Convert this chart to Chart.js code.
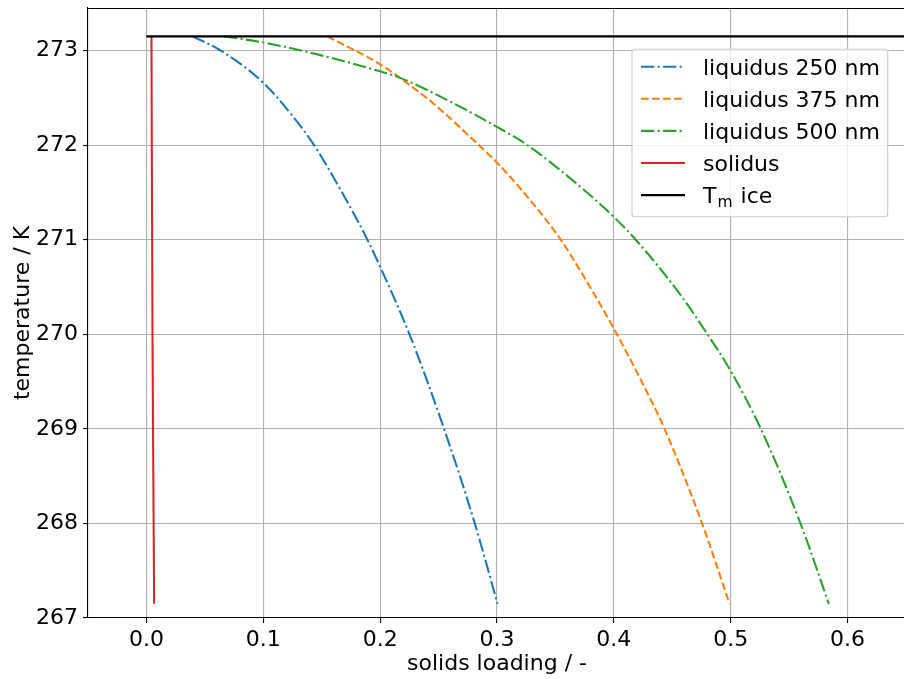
<!DOCTYPE html>
<html>
<head>
<meta charset="utf-8">
<script src="https://cdn.jsdelivr.net/npm/chart.js@4.4.1/dist/chart.umd.min.js"></script>
<style>
  html, body { margin: 0; padding: 0; background: #fff; overflow: hidden; }
  canvas { display: block; }
</style>
</head>
<body>
<canvas id="phase-chart" width="920" height="679"></canvas>
<script>
// liquidus curves for three particle sizes, solidus and melting point of ice
const loading250 = [0.0393, 0.0622, 0.1, 0.1249, 0.1435, 0.1692, 0.1891, 0.2049, 0.2251, 0.2547, 0.281, 0.3005]
const temp250 = [273.15, 273.01, 272.66, 272.31, 272.0, 271.46, 271.0, 270.58, 270.0, 269.0, 268.0, 267.15]

const loading375 = [0.1548, 0.2, 0.2166, 0.2447, 0.2862, 0.3004, 0.3303, 0.3546, 0.3645, 0.4, 0.4315, 0.4434, 0.4755, 0.499]
const temp375 = [273.15, 272.855, 272.714, 272.449, 271.98, 271.81, 271.39, 271.0, 270.81, 270.06, 269.31, 269.0, 268.0, 267.15]

const loading500 = [0.0665, 0.1, 0.1363, 0.2, 0.2166, 0.259, 0.3004, 0.326, 0.3703, 0.4, 0.4187, 0.4556, 0.4801, 0.5001, 0.5258, 0.5597, 0.584]
const temp500 = [273.15, 273.085, 272.99, 272.78, 272.714, 272.466, 272.19, 272.0, 271.57, 271.24, 271.0, 270.44, 270.0, 269.61, 269.0, 268.0, 267.15]

const loadingSolidus = [0.0043, 0.0046, 0.0052, 0.0059, 0.0066]
const tempSolidus = [273.15, 272.0, 270.0, 268.5, 267.15]

const loadingIce = [0.0, 0.65]
const tempIce = [273.15, 273.15]

const xTicks = [0.0, 0.1, 0.2, 0.3, 0.4, 0.5, 0.6]
const yTicks = [267, 268, 269, 270, 271, 272, 273]

const FONT = 'DejaVu Sans'
const LW = 2.08
const DASHDOT = [13.3, 3.3, 2.1, 3.3]
const DASHED = [7.7, 3.3]

function points(xs, ys) {
    return xs.map((x, i) => ({ x: x, y: ys[i] }))
}

function series(label, xs, ys, color, dash, order) {
    return {
        label: label,
        data: points(xs, ys),
        borderColor: color,
        backgroundColor: color,
        borderWidth: LW,
        borderDash: dash,
        showLine: true,
        pointRadius: 0,
        pointHoverRadius: 0,
        cubicInterpolationMode: 'monotone',
        order: order
    }
}

// draws "T_m ice" style labels with a lowered small subscript
function drawMathText(ctx, text, x, y) {
    const parts = text.split(/_(\w)/)
    let cx = x
    parts.forEach((part, i) => {
        if (!part) return
        if (i % 2 === 1) {
            ctx.font = '15.5px "' + FONT + '"'
            ctx.fillText(part, cx + 1, y + 3.5)
            cx += ctx.measureText(part).width + 2
        } else {
            ctx.font = '22px "' + FONT + '"'
            ctx.fillText(part, cx, y)
            cx += ctx.measureText(part).width
        }
    })
}

// no extra room for half tick labels at the ends of the axes
function noLabelPadding(scale) {
    scale.paddingTop = 0
    scale.paddingBottom = 0
    scale.paddingLeft = 0
    scale.paddingRight = 0
}

const framePlugin = {
    id: 'frame',
    afterDatasetsDraw(chart) {
        const { ctx, chartArea } = chart
        ctx.save()
        ctx.strokeStyle = '#000'
        ctx.lineWidth = 1.1
        ctx.beginPath()
        ctx.moveTo(chartArea.left, chartArea.top + 0.5)
        ctx.lineTo(chartArea.right, chartArea.top + 0.5)
        ctx.stroke()
        ctx.restore()
    }
}

const legendPlugin = {
    id: 'boxLegend',
    afterDraw(chart) {
        const { ctx } = chart
        const box = { x: 632, y: 49.3, w: 255.7, h: 167.4, r: 3 }
        ctx.save()
        ctx.beginPath()
        ctx.roundRect(box.x, box.y, box.w, box.h, box.r)
        ctx.fillStyle = 'rgba(255,255,255,0.8)'
        ctx.fill()
        ctx.strokeStyle = '#cccccc'
        ctx.lineWidth = 1.1
        ctx.stroke()

        chart.data.datasets.forEach((ds, i) => {
            const rowY = 66.7 + i * 32.1
            ctx.beginPath()
            ctx.setLineDash(ds.borderDash || [])
            ctx.strokeStyle = ds.borderColor
            ctx.lineWidth = LW
            ctx.moveTo(641, rowY)
            ctx.lineTo(685, rowY)
            ctx.stroke()
            ctx.setLineDash([])
            ctx.fillStyle = '#000'
            ctx.textBaseline = 'alphabetic'
            ctx.textAlign = 'left'
            drawMathText(ctx, ds.label, 703, rowY + 8.3)
        })
        ctx.restore()
    }
}

new Chart(document.querySelector('#phase-chart').getContext('2d'), {
    type: 'scatter',
    data: {
        datasets: [
            series('liquidus 250 nm', loading250, temp250, '#1f77b4', DASHDOT, 4),
            series('liquidus 375 nm', loading375, temp375, '#ff7f0e', DASHED, 3),
            series('liquidus 500 nm', loading500, temp500, '#2ca02c', DASHDOT, 2),
            series('solidus', loadingSolidus, tempSolidus, '#d62728', [], 1),
            series('T_m ice', loadingIce, tempIce, '#000000', [], 0)
        ]
    },
    options: {
        responsive: false,
        animation: false,
        devicePixelRatio: 1,
        layout: { padding: { top: 8, right: 14, left: 0, bottom: 0 } },
        plugins: {
            legend: { display: false },
            tooltip: { enabled: false }
        },
        scales: {
            x: {
                type: 'linear',
                min: -0.05,
                max: 0.65,
                afterFit: scale => { scale.height = 61; noLabelPadding(scale) },
                afterBuildTicks: scale => { scale.ticks = xTicks.map(v => ({ value: v })) },
                ticks: {
                    color: '#000',
                    font: { family: FONT, size: 22 },
                    padding: 4,
                    maxRotation: 0,
                    callback: v => v.toFixed(1)
                },
                grid: {
                    color: '#b0b0b0',
                    lineWidth: 1.1,
                    drawTicks: true,
                    tickLength: 5,
                    tickColor: '#000',
                    tickWidth: 1.1
                },
                border: { display: true, color: '#000', width: 1.1 },
                title: {
                    display: true,
                    text: 'solids loading / -',
                    color: '#000',
                    font: { family: FONT, size: 22 },
                    padding: { top: 0, bottom: 2 }
                }
            },
            y: {
                type: 'linear',
                min: 267,
                max: 273.45,
                afterFit: scale => { scale.width = 88; noLabelPadding(scale) },
                afterBuildTicks: scale => { scale.ticks = yTicks.map(v => ({ value: v })) },
                ticks: {
                    color: '#000',
                    font: { family: FONT, size: 22 },
                    padding: 5,
                    callback: v => v.toFixed(0)
                },
                grid: {
                    color: '#b0b0b0',
                    lineWidth: 1.1,
                    drawTicks: true,
                    tickLength: 5,
                    tickColor: '#000',
                    tickWidth: 1.1
                },
                border: { display: true, color: '#000', width: 1.1 },
                title: {
                    display: true,
                    text: 'temperature / K',
                    color: '#000',
                    font: { family: FONT, size: 22 },
                    padding: { top: 10, bottom: 0 }
                }
            }
        }
    },
    plugins: [framePlugin, legendPlugin]
});
</script>
</body>
</html>
